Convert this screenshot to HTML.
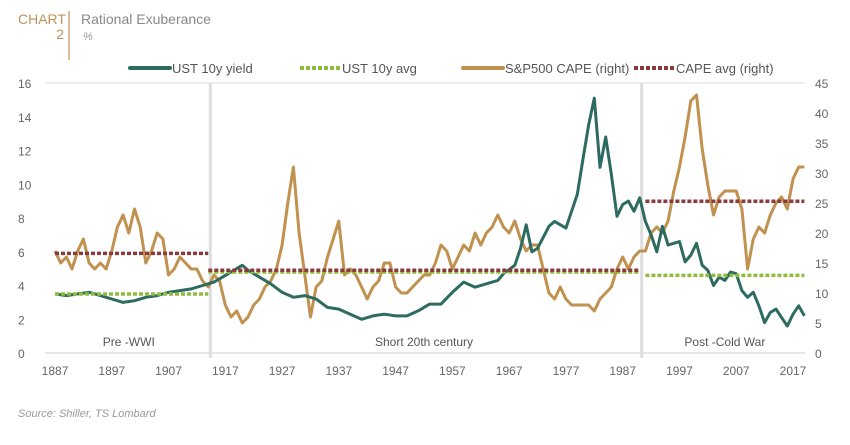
<!DOCTYPE html>
<html><head><meta charset="utf-8"><style>
body{margin:0;background:#fff;width:850px;height:440px;overflow:hidden;font-family:"Liberation Sans",sans-serif}
svg text{font-family:"Liberation Sans",sans-serif}
</style></head><body>
<svg id="c" width="850" height="440">
<text x="18" y="24" fill="#c0935a" font-size="14">CHART</text>
<text x="64" y="39" fill="#c0935a" font-size="14" text-anchor="end">2</text>
<line x1="69" y1="11" x2="69" y2="60" stroke="#c0935a" stroke-width="1.2"/>
<text x="81" y="24" fill="#888" font-size="14">Rational Exuberance</text>
<text x="83" y="40" fill="#999" font-size="11" font-style="italic">%</text>
<text x="18" y="417" fill="#999" font-size="11" font-style="italic">Source: Shiller, TS Lombard</text>
<g id="plot"></g>
</svg>
<script>
const yieldYears=[1887,1889,1891,1893,1895,1897,1899,1901,1903,1905,1907,1909,1911,1913,1915,1917,1919,1920,1921,1923,1925,1927,1929,1931,1933,1935,1937,1939,1941,1943,1945,1947,1949,1951,1953,1955,1957,1959,1961,1963,1965,1966,1968,1969,1970,1971,1972,1974,1975,1977,1978,1979,1980,1981,1982,1983,1984,1985,1986,1987,1988,1989,1990,1991,1992,1993,1994,1995,1996,1997,1998,1999,2000,2001,2002,2003,2004,2005,2006,2007,2008,2009,2010,2011,2012,2013,2014,2015,2016,2017,2018,2019];
const yieldVals=[3.5,3.4,3.5,3.6,3.4,3.2,3.0,3.1,3.3,3.4,3.6,3.7,3.8,4.0,4.2,4.6,5.0,5.2,4.9,4.5,4.1,3.6,3.3,3.4,3.2,2.7,2.6,2.3,2.0,2.2,2.3,2.2,2.2,2.5,2.9,2.9,3.6,4.2,3.9,4.1,4.3,4.7,5.2,6.2,7.6,6.0,6.2,7.5,7.8,7.4,8.4,9.4,11.5,13.5,15.1,11.0,12.8,10.6,8.1,8.8,9.0,8.4,9.2,7.8,7.0,6.0,7.5,6.4,6.5,6.6,5.4,5.8,6.5,5.2,4.9,4.0,4.5,4.3,4.8,4.7,3.7,3.3,3.6,2.8,1.8,2.4,2.6,2.1,1.6,2.3,2.8,2.2];
const capeYears=[1887,1888,1889,1890,1891,1892,1893,1894,1895,1896,1897,1898,1899,1900,1901,1902,1903,1904,1905,1906,1907,1908,1909,1910,1911,1912,1913,1914,1915,1916,1917,1918,1919,1920,1921,1922,1923,1924,1925,1926,1927,1928,1929,1930,1931,1932,1933,1934,1935,1936,1937,1938,1939,1940,1941,1942,1943,1944,1945,1946,1947,1948,1949,1950,1951,1952,1953,1954,1955,1956,1957,1958,1959,1960,1961,1962,1963,1964,1965,1966,1967,1968,1969,1970,1971,1972,1973,1974,1975,1976,1977,1978,1979,1980,1981,1982,1983,1984,1985,1986,1987,1988,1989,1990,1991,1992,1993,1994,1995,1996,1997,1998,1999,2000,2001,2002,2003,2004,2005,2006,2007,2008,2009,2010,2011,2012,2013,2014,2015,2016,2017,2018,2019];
const capeVals=[17,15,16,14,17,19,15,14,15,14,17,21,23,20,24,21,15,17,20,19,13,14,16,15,14,14,12,11,13,12,8,6,7,5,6,8,9,11,12,14,18,25,31,20,13,6,11,12,16,19,22,13,14,13,11,9,11,12,15,15,11,10,10,11,12,13,13,15,18,17,14,16,18,17,20,18,20,21,23,21,20,22,19,17,18,18,14,10,9,11,9,8,8,8,8,7,9,10,11,14,16,14,16,17,17,20,21,20,22,27,31,36,42,43,34,28,23,26,27,27,27,24,14,19,21,20,23,25,26,24,29,31,31];
const avgUst=[[1887,1914,3.5],[1914,1990,4.8],[1991,2019,4.6]];
const avgCape=[[1887,1914,16.6],[1914,1990,13.8],[1991,2019,25.3]];
const leftTicks=[0,2,4,6,8,10,12,14,16];
const rightTicks=[0,5,10,15,20,25,30,35,40,45];
const xTicks=[1887,1897,1907,1917,1927,1937,1947,1957,1967,1977,1987,1997,2007,2017];
const periods=[["Pre -WWI",1900],["Short 20th century",1952],["Post -Cold War",2005]];
const seps=[1914,1990];

const NS="http://www.w3.org/2000/svg";
const g=document.getElementById('plot');
const X=y=>55+(y-1887)*(738/130);
const YL=v=>353-v*(270/16);
const YR=v=>353-v*6;
function el(t,a,p){const e=document.createElementNS(NS,t);for(const k in a)e.setAttribute(k,a[k]);(p||g).appendChild(e);return e;}
let e;
e=el('line',{x1:45,x2:805,y1:83,y2:83,stroke:'#ddd','stroke-width':1});


e=el('line',{x1:45,x2:805,y1:353,y2:353,stroke:'#ccc','stroke-width':1});


seps.forEach(s=>{e=el('line',{x1:X(s)+2,x2:X(s)+2,y1:83,y2:358,stroke:'#ddd','stroke-width':3});

});
leftTicks.forEach(v=>{e=el('text',{x:18,y:YL(v)+5,'font-size':12,fill:'#666'});e.textContent=v;

});
rightTicks.forEach(v=>{e=el('text',{x:815,y:YR(v)+5,'font-size':12,fill:'#666'});e.textContent=v;

});
xTicks.forEach(v=>{e=el('text',{x:X(v),y:375,'font-size':12,fill:'#666','text-anchor':'middle'});e.textContent=v;

});
periods.forEach(p=>{e=el('text',{x:X(p[1]),y:346,'font-size':12,fill:'#555','text-anchor':'middle'});e.textContent=p[0];

});
function line(xs,vs,f,col,name){e=el('path',{d:xs.map((x,i)=>(i?'L':'M')+X(x).toFixed(1)+','+f(vs[i]).toFixed(1)).join(''),fill:'none',stroke:col,'stroke-width':3,'stroke-linejoin':'round'});

}
line(capeYears,capeVals,YR,'#c0914f','cape-line');
line(yieldYears,yieldVals,YL,'#2d6b60','ust-yield-line');
avgUst.forEach(a=>{e=el('line',{x1:X(a[0]),x2:X(a[1]),y1:YL(a[2]),y2:YL(a[2]),stroke:'#8fbc3c','stroke-width':3.5,'stroke-dasharray':'4 2'});

});
avgCape.forEach(a=>{e=el('line',{x1:X(a[0]),x2:X(a[1]),y1:YR(a[2]),y2:YR(a[2]),stroke:'#8a3c3c','stroke-width':3.5,'stroke-dasharray':'4 2'});

});
const leg=[["UST 10y yield",130,'#2d6b60',''],["UST 10y avg",300,'#8fbc3c','4 2'],["S&P500 CAPE (right)",463,'#c0914f',''],["CAPE avg (right)",634,'#8a3c3c','4 2']];
leg.forEach(l=>{e=el('line',{x1:l[1],x2:l[1]+40,y1:68,y2:68,stroke:l[2],'stroke-width':4,'stroke-dasharray':l[3],'stroke-linecap':l[3]?'butt':'round'});


e=el('text',{x:l[1]+42,y:73,'font-size':13,fill:'#555'});e.textContent=l[0];

});
</script>
</body></html>
